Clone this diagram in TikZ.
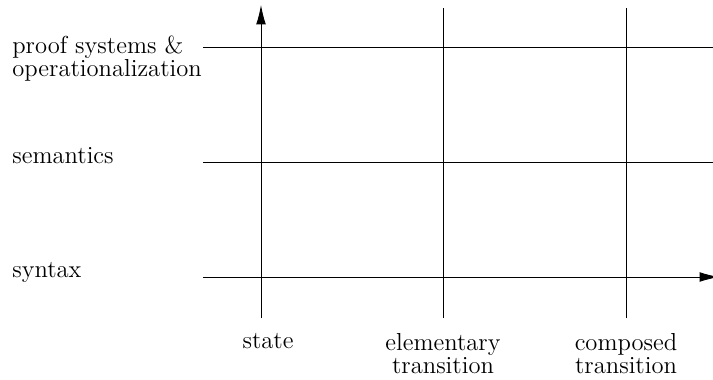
\documentclass[tikz,border=0pt]{standalone}
\usepackage{tikz}
\usetikzlibrary{
	arrows.meta,
	positioning
}

\begin{document}
\begin{tikzpicture}[x=0.02cm, y=-0.02cm,
		gridline/.style={line width=0.5pt},
		axisline/.style={line width=0.5pt, -{Latex[length=11pt, width=5.5pt]}},
		lbl/.style={font=\fontsize{14}{13}\selectfont, inner sep=0pt},
		xlbl/.style={lbl, align=center, anchor=north}]
		\useasboundingbox (0,0) rectangle (713,379);
		% coordinates of the grid
		\coordinate (S0) at (261,318);
		\coordinate (S1) at (261,5);
		\coordinate (E0) at (443,318);
		\coordinate (E1) at (443,8);
		\coordinate (C0) at (626,318);
		\coordinate (C1) at (626,8);
		\coordinate (P0) at (203,47);
		\coordinate (P1) at (713,47);
		\coordinate (M0) at (203,162);
		\coordinate (M1) at (713,162);
		\coordinate (Y0) at (203,277);
		\coordinate (Y1) at (719,277);
		\draw[axisline] (S0)--(S1);
		\draw[gridline] (E0)--(E1);
		\draw[gridline] (C0)--(C1);
		\draw[gridline] (P0)--(P1);
		\draw[gridline] (M0)--(M1);
		\draw[axisline] (Y0)--(Y1);
		% labels
		\node[lbl, align=left, anchor=north west] (proof) at (12,36) {proof systems \&\\operationalization};
		\node[lbl, anchor=base west] (sem) at (12,163) {semantics};
		\node[lbl, anchor=base west] (syn) at (12,277) {syntax};
		\node[xlbl] (state) at (268,333) {state};
		\node[xlbl] (elem) at (443,333) {elementary\\transition};
		\node[xlbl] (comp) at (626,333) {composed\\transition};
\end{tikzpicture}
\end{document}
